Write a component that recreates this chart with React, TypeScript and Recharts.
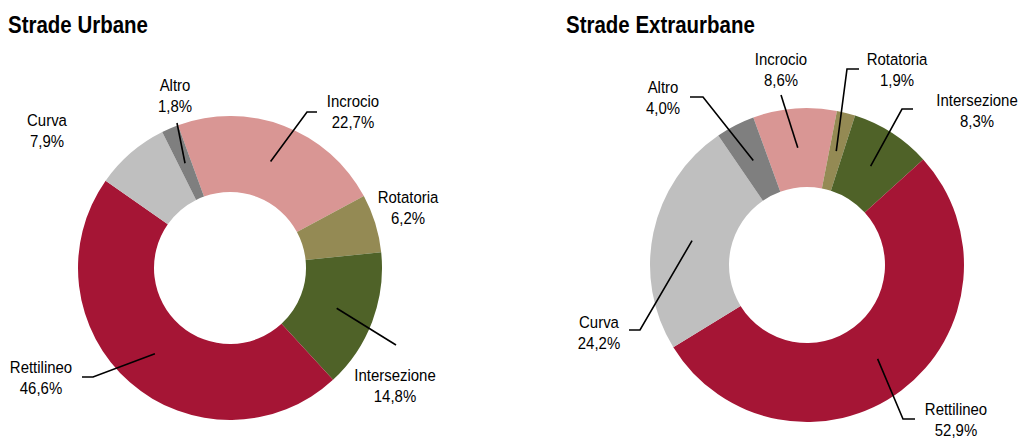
import { PieChart, Pie, Cell } from 'recharts';

const categories = ['Incrocio', 'Rotatoria', 'Intersezione', 'Rettilineo', 'Curva', 'Altro'];
const urbanShares = [22.7, 6.2, 14.8, 46.6, 7.9, 1.8];
const extraShares = [8.6, 1.9, 8.3, 52.9, 24.2, 4.0];
const sliceColors = ['#D99694', '#948A54', '#4F6228', '#A51535', '#BFBFBF', '#7F7F7F'];

const FONT = '"Liberation Sans", Arial, sans-serif';
// no narrow face is installed, so the text is squeezed horizontally
const LABEL_SQUEEZE = 0.88;
const TITLE_SQUEEZE = 0.89;

type Pt = [number, number];
interface LabelLayout {
  tx: number;
  ty: number;
  leader: Pt[] | null;
}

// label text centre and leader points, as offsets from the pie centre
const urbanLabels: LabelLayout[] = [
  { tx: 123, ty: -156, leader: [[77, -156], [87, -156]] },
  { tx: 178, ty: -60, leader: null },
  { tx: 165, ty: 118, leader: [[166, 77]] },
  { tx: -189, ty: 110, leader: [[-137, 109], [-148, 109]] },
  { tx: -183, ty: -137, leader: null },
  { tx: -55, ty: -172, leader: [[-53, -145]] },
];

const extraLabels: LabelLayout[] = [
  { tx: -26, ty: -195, leader: [[-26, -170]] },
  { tx: 90, ty: -195, leader: [[40, -196], [52, -196]] },
  { tx: 170, ty: -154, leader: [[95, -156], [106, -156]] },
  { tx: 149, ty: 155, leader: [[96, 154], [108, 154]] },
  { tx: -208, ty: 68, leader: [[-167, 65], [-178, 65]] },
  { tx: -144, ty: -167, leader: [[-104, -168], [-117, -168]] },
];

const urbanData = categories.map((name, i) => ({ name, value: urbanShares[i] }));
const extraData = categories.map((name, i) => ({ name, value: extraShares[i] }));

const fmt = (v: number) => v.toFixed(1).replace('.', ',') + '%';

function LabelLine({ x, y, children }: { x: number; y: number; children: React.ReactNode }) {
  return (
    <text
      transform={`translate(${x} ${y}) scale(${LABEL_SQUEEZE} 1)`}
      textAnchor="middle"
      dominantBaseline="central"
      fontSize={17}
      fill="#000"
      fontFamily={FONT}
    >
      {children}
    </text>
  );
}

function makeLabel(layout: LabelLayout[]) {
  return (props: any) => {
    const { cx, cy, midAngle, innerRadius, outerRadius, index, name, value } = props;
    const lay = layout[index];
    if (!lay) return null;
    const RADIAN = Math.PI / 180;
    const r = (innerRadius + outerRadius) / 2;
    const sx = cx + r * Math.cos(-midAngle * RADIAN);
    const sy = cy + r * Math.sin(-midAngle * RADIAN);
    const x = cx + lay.tx;
    const y = cy + lay.ty;
    return (
      <g key={`lbl-${index}`}>
        {lay.leader && (
          <polyline
            points={[[sx, sy], ...lay.leader.map(([dx, dy]) => [cx + dx, cy + dy])]
              .map((p) => p.join(','))
              .join(' ')}
            fill="none"
            stroke="#000"
            strokeWidth={1.6}
          />
        )}
        <LabelLine x={x} y={y - 10.5}>{name}</LabelLine>
        <LabelLine x={x} y={y + 10.5}>{fmt(value)}</LabelLine>
      </g>
    );
  };
}

const titleStyle: React.CSSProperties = {
  position: 'absolute',
  top: 12,
  fontFamily: FONT,
  fontWeight: 700,
  fontSize: 23,
  color: '#000',
  whiteSpace: 'nowrap',
  transform: `scaleX(${TITLE_SQUEEZE})`,
  transformOrigin: 'left center',
};

export default function App() {
  return (
    <div style={{ position: 'absolute', left: 0, top: 0, width: 1019, height: 439, background: '#fff' }}>
      <div style={{ ...titleStyle, left: 8 }}>Strade Urbane</div>
      <div style={{ ...titleStyle, left: 566 }}>Strade Extraurbane</div>
      <div style={{ position: 'absolute', left: 0, top: 0 }}>
        <PieChart width={1019} height={439} margin={{ top: 0, right: 0, bottom: 0, left: 0 }}>
          <Pie
            data={urbanData}
            dataKey="value"
            nameKey="name"
            cx={230}
            cy={268}
            innerRadius={76}
            outerRadius={152}
            startAngle={110}
            endAngle={-250}
            stroke="none"
            isAnimationActive={false}
            labelLine={false}
            label={makeLabel(urbanLabels)}
          >
            {urbanData.map((d, i) => (
              <Cell key={d.name} fill={sliceColors[i]} />
            ))}
          </Pie>
          <Pie
            data={extraData}
            dataKey="value"
            nameKey="name"
            cx={807}
            cy={265}
            innerRadius={78}
            outerRadius={157}
            startAngle={110}
            endAngle={-250}
            stroke="none"
            isAnimationActive={false}
            labelLine={false}
            label={makeLabel(extraLabels)}
          >
            {extraData.map((d, i) => (
              <Cell key={d.name} fill={sliceColors[i]} />
            ))}
          </Pie>
        </PieChart>
      </div>
    </div>
  );
}
